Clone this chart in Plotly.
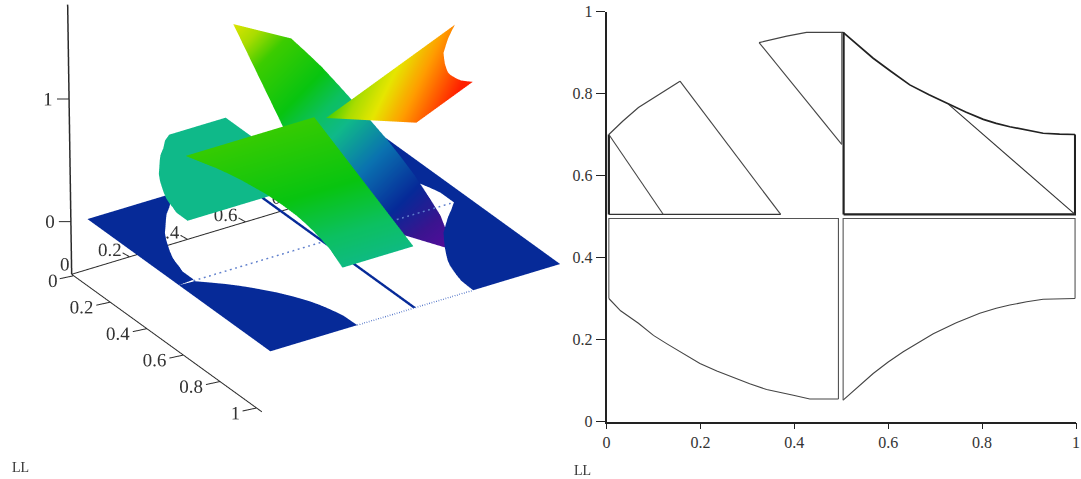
import plotly.graph_objects as go

# ---- outlines (x, y) ----
left_curve_x = [0.005, 0.03, 0.068, 0.1, 0.128, 0.165, 0.199, 0.235, 0.27, 0.305, 0.341, 0.37, 0.398, 0.433, 0.494]
left_curve_y = [0.30, 0.27, 0.2395, 0.21, 0.19, 0.165, 0.1416, 0.123, 0.107, 0.092, 0.078, 0.07, 0.064, 0.055, 0.055]
right_curve_x = [0.504, 0.536, 0.568, 0.6, 0.632, 0.664, 0.696, 0.745, 0.795, 0.83, 0.859, 0.895, 0.93, 0.998]
right_curve_y = [0.052, 0.085, 0.117, 0.145, 0.17, 0.192, 0.214, 0.241, 0.264, 0.276, 0.284, 0.292, 0.298, 0.30]
upper_curve_x = [0.504, 0.536, 0.568, 0.607, 0.646, 0.687, 0.728, 0.765, 0.8026, 0.83, 0.859, 0.895, 0.93, 0.965, 0.998]
upper_curve_y = [0.949, 0.917, 0.886, 0.853, 0.821, 0.797, 0.774, 0.755, 0.737, 0.727, 0.719, 0.71, 0.703, 0.701, 0.70]
arc_a_x = [0.005, 0.035, 0.068, 0.114, 0.1565]
arc_a_y = [0.70, 0.733, 0.766, 0.80, 0.83]
arc_b_x = [0.325, 0.384, 0.426, 0.504]
arc_b_y = [0.924, 0.94, 0.949, 0.949]
level1_x = [0.005, 0.121]
level1_y = [0.70, 0.505]
level2_x = [0.1565, 0.371]
level2_y = [0.83, 0.505]
level3_x = [0.325, 0.501]
level3_y = [0.924, 0.676]
diag_x = [0.728, 0.998]
diag_y = [0.774, 0.505]

# ---- surface facets: outlines with the heights ----
tl_x = [0.5, 0.005, 0.005, 0.035, 0.068, 0.114, 0.157, 0.2, 0.24, 0.28, 0.325, 0.384, 0.426, 0.5]
tl_y = [0.5, 0.5, 0.70, 0.733, 0.766, 0.80, 0.83, 0.86, 0.885, 0.905, 0.924, 0.94, 0.949, 0.949]
tl_z = [0.25, 1.24, 0.98, 0.877, 0.768, 0.632, 0.507, 0.382, 0.27, 0.1635, 0.049, -0.09, -0.186, -0.39]

tr_x = [0.505, 0.998, 0.998, 0.965, 0.93, 0.895, 0.859, 0.83, 0.8026, 0.765, 0.728, 0.687, 0.646, 0.607, 0.568, 0.536, 0.505]
tr_y = [0.505, 0.505, 0.70, 0.701, 0.703, 0.71, 0.719, 0.727, 0.737, 0.755, 0.774, 0.797, 0.821, 0.853, 0.886, 0.917, 0.949]
tr_z = [1.01, 1.503, 1.698, 1.666, 1.633, 1.605, 1.578, 1.557, 1.54, 1.52, 1.502, 1.484, 1.467, 1.46, 1.454, 1.453, 1.454]

br_x = [0.4555, 0.4555, 0.4896, 0.5248, 0.56, 0.5952, 0.6304, 0.6656, 0.7195, 0.7745, 0.813, 0.8449, 0.8845, 0.923, 0.9978, 0.9978]
br_y = [0.495, 0.0515, 0.0814, 0.1102, 0.135, 0.1568, 0.1756, 0.1944, 0.2165, 0.2345, 0.243, 0.2481, 0.2525, 0.255, 0.2502, 0.495]
br_z = [0.97, 0.97, 0.936, 0.906, 0.876, 0.846, 0.816, 0.786, 0.74, 0.693, 0.66, 0.633, 0.599, 0.566, 0.502, 0.502]

bl_x = [0.484, -0.005, -0.005, 0.02, 0.058, 0.09, 0.118, 0.155, 0.189, 0.225, 0.26, 0.295, 0.331, 0.36, 0.388, 0.423, 0.484]
bl_y = [0.48, 0.48, 0.285, 0.255, 0.225, 0.195, 0.175, 0.15, 0.127, 0.108, 0.092, 0.077, 0.063, 0.055, 0.049, 0.04, 0.04]
bl_z = [0.48] * 17

b1_x = [0, 0.5, 0.494, 0.433, 0.398, 0.37, 0.341, 0.305, 0.27, 0.235, 0.199, 0.165, 0.128, 0.1, 0.068, 0.03, 0]
b1_y = [0, 0, 0.055, 0.055, 0.064, 0.07, 0.078, 0.092, 0.107, 0.123, 0.1416, 0.165, 0.19, 0.21, 0.2395, 0.27, 0.30]
b2_x = [1, 1, 0.93, 0.895, 0.859, 0.83, 0.795, 0.745, 0.696, 0.664, 0.632, 0.6, 0.568, 0.536, 0.504, 0.5]
b2_y = [0, 0.30, 0.298, 0.292, 0.284, 0.276, 0.264, 0.241, 0.214, 0.192, 0.17, 0.145, 0.117, 0.085, 0.052, 0]
b3_x = [0, 0, 0.035, 0.068, 0.114, 0.157, 0.2, 0.24, 0.28, 0.325, 0.384, 0.426, 0.5, 0.5]
b3_y = [1, 0.70, 0.733, 0.766, 0.80, 0.83, 0.86, 0.885, 0.905, 0.924, 0.94, 0.949, 0.949, 1]
b4_x = [1, 0.5, 0.5, 0.536, 0.568, 0.607, 0.646, 0.687, 0.728, 0.765, 0.8026, 0.83, 0.859, 0.895, 0.93, 0.965, 1]
b4_y = [1, 1, 0.949, 0.917, 0.886, 0.853, 0.821, 0.797, 0.774, 0.755, 0.737, 0.727, 0.719, 0.71, 0.703, 0.701, 0.70]
b5_x = [0, 1, 1, 0]
b5_y = [0.493, 0.493, 0.503, 0.503]

dash_a_x = [0.5, 0.5]
dash_a_y = [0.05, 0.95]
dash_b_x = [1, 1]
dash_b_y = [0.30, 0.70]

x3_ticks = [0, 0.2, 0.4, 0.6, 0.8, 1]
y3_ticks = [0, 0.2, 0.4, 0.6, 0.8, 1]
z3_ticks = [0, 1]
tick_labels_2d = [0, 0.2, 0.4, 0.6, 0.8, 1]

C_STOPS = [(-0.4, "#5a0a9e"), (-0.2, "#3a148f"), (0.0, "#062a98"), (0.25, "#0a72b0"),
           (0.48, "#0fb98a"), (0.6, "#0cc060"), (0.75, "#08c410"), (1.0, "#3ccc00"), (1.13, "#a8dc00"),
           (1.26, "#e6e600"), (1.42, "#ff9c00"), (1.65, "#ff2000"), (1.75, "#ff2000")]
CMIN, CMAX = -0.4, 1.75
colorscale = [[(v - CMIN) / (CMAX - CMIN), c] for v, c in C_STOPS]

SERIF = "Liberation Serif"
INK = "#333333"

vx, vy, vz, ti, tj, tk = [], [], [], [], [], []


def add_fan(xs, ys, zs):
    base = len(vx)
    vx.extend(xs)
    vy.extend(ys)
    vz.extend(zs)
    for n in range(1, len(xs) - 1):
        ti.append(base)
        tj.append(base + n)
        tk.append(base + n + 1)


for xs, ys, zs in [(tl_x, tl_y, tl_z), (tr_x, tr_y, tr_z), (br_x, br_y, br_z), (bl_x, bl_y, bl_z)]:
    add_fan(xs, ys, zs)
for xs, ys in [(b1_x, b1_y), (b2_x, b2_y), (b3_x, b3_y), (b4_x, b4_y), (b5_x, b5_y)]:
    add_fan(xs, ys, [0] * len(xs))

fig = go.Figure()
fig.add_trace(go.Mesh3d(
    x=vx, y=vy, z=vz, i=ti, j=tj, k=tk, intensity=vz, intensitymode="vertex",
    colorscale=colorscale, cmin=CMIN, cmax=CMAX, showscale=False, flatshading=True,
    lighting=dict(ambient=1, diffuse=0, specular=0, roughness=1, fresnel=0),
    hoverinfo="skip", scene="scene"))

for xs, ys in [(dash_a_x, dash_a_y), (dash_b_x, dash_b_y)]:
    fig.add_trace(go.Scatter3d(x=xs, y=ys, z=[0, 0], mode="lines",
                               line=dict(color="#5f7fcc", width=3, dash="dash"),
                               hoverinfo="skip", showlegend=False, scene="scene"))


# screen offset (px right, px down) -> data offset in the floor plane
def off(sx, sy):
    det = 182 * -87 - 290 * 132
    return (sx * -87 - 290 * sy) / det, (182 * sy - 132 * sx) / det


X0, Y0, ZB, ZT = -0.012, -0.047, -0.43, 1.77
axis_color = "#2a2a2a"


def seg(xs, ys, zs, width):
    fig.add_trace(go.Scatter3d(x=xs, y=ys, z=zs, mode="lines",
                               line=dict(color=axis_color, width=width),
                               hoverinfo="skip", showlegend=False, scene="scene"))


seg([X0, X0 + 1.04], [Y0, Y0], [ZB, ZB], 2)
seg([X0, X0], [Y0, Y0 + 1.0], [ZB, ZB], 2)
lean = off(-4, 0)
seg([X0, X0 + lean[0]], [Y0, Y0 + lean[1]], [ZB, ZT], 3)

lx, ly, lz, lt = [], [], [], []
tick_dir = off(-14, 3)
shift = off(2, 1.5)
for t in x3_ticks:
    px, py = X0 + t + shift[0] * 0 + 0.011, Y0
    label_dir = off(-29, 5) if len(str(t)) > 1 else off(-21, 5)
    seg([px, px + tick_dir[0]], [py, py + tick_dir[1]], [ZB, ZB], 2)
    lx.append(px + label_dir[0]); ly.append(py + label_dir[1]); lz.append(ZB); lt.append(str(t))
tick_dir = off(-7, -4)
for t in y3_ticks:
    px, py = X0, Y0 + t
    label_dir = off(-20, -7) if t else off(-7, -10)
    if t:
        seg([px, px + tick_dir[0]], [py, py + tick_dir[1]], [ZB, ZB], 2)
    lx.append(px + label_dir[0]); ly.append(py + label_dir[1]); lz.append(ZB); lt.append(str(t))
tick_dir = off(-12, 0)
label_dir = off(-21, 0)
for t in z3_ticks:
    frac = (t - ZB) / (ZT - ZB)
    px, py = X0 + lean[0] * frac, Y0 + lean[1] * frac
    seg([px, px + tick_dir[0]], [py, py + tick_dir[1]], [t, t], 2)
    lx.append(px + label_dir[0]); ly.append(py + label_dir[1]); lz.append(t); lt.append(str(t))
fig.add_trace(go.Scatter3d(x=lx, y=ly, z=lz, text=lt, mode="text", textposition="middle center",
                           textfont=dict(family=SERIF, size=19, color=INK),
                           hoverinfo="skip", showlegend=False, scene="scene"))

# ---- right chart ----
def line2(xs, ys, width=1.0, color="#333333"):
    fig.add_trace(go.Scatter(x=xs, y=ys, mode="lines", line=dict(color=color, width=width),
                             hoverinfo="skip", showlegend=False, xaxis="x", yaxis="y"))


line2(left_curve_x, left_curve_y, 1.1, "#444444")
line2([0.005, 0.005, 0.494, 0.494], [0.30, 0.495, 0.495, 0.055], 1.1, "#555555")
line2(right_curve_x, right_curve_y, 1.1, "#444444")
line2([0.504, 0.504, 0.998, 0.998], [0.052, 0.495, 0.495, 0.30], 1.1, "#555555")
line2([0.005, 0.005], [0.505, 0.70], 2.2, "#222222")
line2([0.005, 0.371], [0.505, 0.505], 1.3, "#333333")
line2(arc_a_x, arc_a_y, 1.2, "#444444")
line2(arc_b_x, arc_b_y, 1.2, "#444444")
line2(level1_x, level1_y, 1.1, "#444444")
line2(level2_x, level2_y, 1.1, "#444444")
line2(level3_x, level3_y, 1.1, "#444444")
line2([0.501, 0.501], [0.676, 0.949], 1.0, "#555555")
line2([0.505, 0.505], [0.505, 0.949], 2.2, "#222222")
line2([0.505, 0.998, 0.998], [0.505, 0.505, 0.70], 2.2, "#222222")
line2(upper_curve_x, upper_curve_y, 1.7, "#222222")
line2(diag_x, diag_y, 1.1, "#333333")

W, H = 1081, 479
axis_common = dict(range=[0, 1], showgrid=False, zeroline=False, showline=True, linecolor="#222222",
                   linewidth=1.5, ticks="outside", tickwidth=1, tickcolor="#222222",
                   tickmode="array", tickvals=tick_labels_2d, ticktext=[str(t) for t in tick_labels_2d],
                   tickfont=dict(family=SERIF, size=16, color=INK), fixedrange=True, automargin=False)
hidden = dict(visible=False)
CENTER = dict(x=-0.0475, y=-0.074, z=-0.35)
VIEW = dict(x=0.753, y=-0.486, z=0.473)
fig.update_layout(
    width=W, height=H, autosize=False, margin=dict(l=0, r=0, t=0, b=0, pad=0), paper_bgcolor="white", plot_bgcolor="white",
    showlegend=False,
    xaxis=dict(domain=[606.5 / W, 1076 / W], anchor="y", ticklen=6, **axis_common),
    yaxis=dict(domain=[1 - 421.5 / H, 1 - 11.5 / H], anchor="x", ticklen=9, **axis_common),
    scene=dict(
        domain=dict(x=[0, 0.52], y=[0, 1]),
        xaxis=dict(range=[-0.3, 1.3], **hidden), yaxis=dict(range=[-0.4, 1.25], **hidden),
        zaxis=dict(range=[-0.5, 1.85], **hidden),
        aspectmode="manual", aspectratio=dict(x=2.253, y=2.376, z=1.36),
        camera=dict(projection=dict(type="orthographic"), up=dict(x=0, y=0, z=1),
                    eye={k: CENTER[k] + VIEW[k] for k in VIEW}, center=CENTER),
        bgcolor="rgba(0,0,0,0)"),
    annotations=[
        dict(text="LL", x=20 / W, y=1 - 467 / H, xref="paper", yref="paper", showarrow=False,
             xanchor="center", yanchor="middle", font=dict(family=SERIF, size=14, color=INK)),
        dict(text="LL", x=582 / W, y=1 - 470 / H, xref="paper", yref="paper", showarrow=False,
             xanchor="center", yanchor="middle", font=dict(family=SERIF, size=14, color=INK)),
    ])
fig.write_html("out.html", config=dict(displayModeBar=False),
               post_script="document.body.style.margin='0';document.documentElement.style.overflow='hidden';")
